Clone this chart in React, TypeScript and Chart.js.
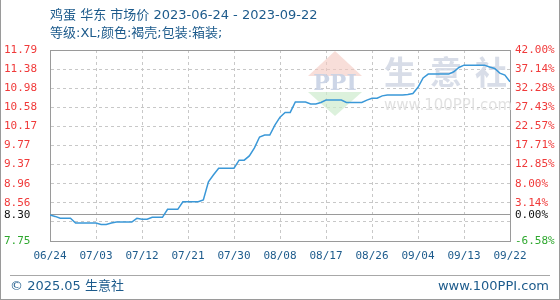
import React, { useEffect, useRef } from "react";
import { Chart, registerables } from "chart.js";

Chart.register(...registerables);

// ---- data ----
const startDate = "2023-06-24";
const dayCount = 91;

const prices: number[] = [
  8.30, 8.27, 8.23, 8.23, 8.23, 8.13, 8.13, 8.13, 8.13, 8.13,
  8.10, 8.10, 8.13, 8.15, 8.15, 8.15, 8.15, 8.23, 8.21, 8.21,
  8.25, 8.25, 8.25, 8.42, 8.42, 8.42, 8.58, 8.58, 8.58, 8.58,
  8.62, 9.00, 9.15, 9.29, 9.29, 9.29, 9.29, 9.46, 9.46, 9.55,
  9.72, 9.95, 9.99, 9.99, 10.20, 10.37, 10.47, 10.47, 10.69, 10.69,
  10.69, 10.65, 10.65, 10.68, 10.73, 10.73, 10.73, 10.73, 10.68, 10.68,
  10.68, 10.68, 10.73, 10.77, 10.77, 10.82, 10.84, 10.84, 10.84, 10.84,
  10.85, 10.87, 11.00, 11.20, 11.28, 11.28, 11.28, 11.28, 11.28, 11.33,
  11.42, 11.47, 11.47, 11.47, 11.47, 11.47, 11.43, 11.40, 11.30, 11.26,
  11.12,
];

const basePrice = 8.30;
const yMin = 7.75;
const yMax = 11.79;
const yTickValues = [7.75, 8.154, 8.30, 8.558, 8.962, 9.366, 9.77, 10.174, 10.578, 10.982, 11.386, 11.79];
const leftTickLabels = ["7.75", "", "8.30", "8.56", "8.96", "9.37", "9.77", "10.17", "10.58", "10.98", "11.38", "11.79"];
const rightTickLabels = ["-6.58%", "", "0.00%", "3.14%", "8.00%", "12.85%", "17.71%", "22.57%", "27.43%", "32.28%", "37.14%", "42.00%"];
const xTickStep = 9;

const titleText = "鸡蛋 华东 市场价 2023-06-24 - 2023-09-22";
const subtitleText = "等级:XL;颜色:褐壳;包装:箱装;";
const footerLeft = "© 2025.05 生意社";
const footerRight = "www.100PPI.com";

function buildDates(): string[] {
  const [y, m, d] = startDate.split("-").map(Number);
  const t0 = Date.UTC(y, m - 1, d);
  const out: string[] = [];
  for (let i = 0; i < dayCount; i++) {
    const dt = new Date(t0 + i * 86400000);
    const mm = String(dt.getUTCMonth() + 1).padStart(2, "0");
    const dd = String(dt.getUTCDate()).padStart(2, "0");
    out.push(`${mm}/${dd}`);
  }
  return out;
}
const dates = buildDates();

const RED = "#f03a3a";
const GREEN = "#2fa82f";
const BLACK = "#111111";
const BLUE_TEXT = "#1d5b8c";
const FRAME = "#9a9a9a";
const GRID = "#c8c8c8";
const MONO = '"DejaVu Sans Mono", "Liberation Mono", monospace';
const SANS = '"DejaVu Sans", "Noto Sans CJK SC", sans-serif';

function tickColor(v: number | undefined): string {
  if (v === undefined) return BLACK;
  if (Math.abs(v - basePrice) < 1e-9) return BLACK;
  if (v > basePrice) return RED;
  return GREEN;
}

const watermarkPlugin = {
  id: "watermark",
  beforeDatasetsDraw(chart: any) {
    const ctx = chart.ctx as CanvasRenderingContext2D;
    ctx.save();
    ctx.fillStyle = "rgba(244,200,192,0.6)";
    ctx.beginPath();
    ctx.moveTo(335, 51);
    ctx.lineTo(362, 76);
    ctx.lineTo(308, 76);
    ctx.closePath();
    ctx.fill();
    ctx.fillStyle = "rgba(205,235,205,0.7)";
    ctx.beginPath();
    ctx.moveTo(308, 92);
    ctx.lineTo(362, 92);
    ctx.lineTo(335, 116);
    ctx.closePath();
    ctx.fill();
    ctx.fillStyle = "rgba(200,210,228,0.9)";
    ctx.font = 'bold 22px "DejaVu Serif", serif';
    ctx.textAlign = "center";
    ctx.textBaseline = "middle";
    ctx.fillText("PPI", 335, 84);
    ctx.fillStyle = "rgba(212,217,230,0.9)";
    ctx.font = 'bold 32px "Noto Sans CJK SC", sans-serif';
    ctx.textAlign = "left";
    ctx.textBaseline = "middle";
    const chars = ["生", "意", "社"];
    const xs = [384, 430, 475];
    chars.forEach((c, i) => ctx.fillText(c, xs[i], 72));
    ctx.fillStyle = "rgba(222,222,222,0.9)";
    ctx.font = '15px "DejaVu Sans", sans-serif';
    ctx.fillText("www.100PPI.com", 384, 106);
    ctx.restore();
  },
};

export default function App() {
  const canvasRef = useRef<HTMLCanvasElement | null>(null);

  useEffect(() => {
    if (!canvasRef.current) return;
    const chart = new Chart(canvasRef.current, {
      type: "line",
      data: {
        datasets: [
          {
            data: prices.map((v, i) => ({ x: i, y: v })),
            borderColor: "#3a98d8",
            borderWidth: 1.5,
            pointRadius: 0,
            tension: 0,
            fill: false,
          },
        ],
      },
      plugins: [watermarkPlugin],
      options: {
        responsive: false,
        animation: false,
        parsing: false as any,
        layout: { padding: { left: 4, top: 50, right: 0, bottom: 0 } },
        plugins: {
          legend: { display: false },
          tooltip: { enabled: false },
          title: { display: false },
        },
        scales: {
          x: {
            type: "linear",
            min: 0,
            max: dayCount - 1,
            afterFit: (s: any) => {
              s.height = 59;
            },
            afterBuildTicks: (s: any) => {
              const t: any[] = [];
              for (let i = 0; i < dayCount; i += xTickStep) t.push({ value: i });
              s.ticks = t;
            },
            ticks: {
              autoSkip: false,
              maxRotation: 0,
              padding: 9,
              color: BLUE_TEXT,
              font: { family: MONO, size: 11 },
              callback: (v: any) => dates[Math.round(Number(v))] ?? "",
            },
            grid: {
              drawTicks: false,
              color: (c: any) => {
                const v = c.tick ? c.tick.value : undefined;
                if (v === 0 || v === dayCount - 1) return "rgba(0,0,0,0)";
                return GRID;
              },
              lineWidth: 1,
            },
            border: { display: true, color: FRAME, width: 1, dash: [3, 3] },
          },
          y: {
            type: "linear",
            position: "left",
            min: yMin,
            max: yMax,
            afterFit: (s: any) => {
              s.width = 46;
            },
            afterBuildTicks: (s: any) => {
              s.ticks = yTickValues.map((v) => ({ value: v }));
            },
            ticks: {
              autoSkip: false,
              crossAlign: "far",
              padding: 0,
              font: { family: MONO, size: 11 },
              color: (c: any) => tickColor(c.tick ? c.tick.value : undefined),
              callback: (v: any) => {
                const i = yTickValues.findIndex((t) => Math.abs(t - Number(v)) < 1e-6);
                return i >= 0 ? leftTickLabels[i] : "";
              },
            },
            grid: {
              drawTicks: false,
              lineWidth: 1,
              color: (c: any) => {
                const v = c.tick ? c.tick.value : undefined;
                if (v === undefined) return GRID;
                if (Math.abs(v - yMin) < 1e-6) return "rgba(0,0,0,0)";
                if (Math.abs(v - yMax) < 1e-6 || Math.abs(v - basePrice) < 1e-6) return FRAME;
                return GRID;
              },
            },
            border: {
              display: true,
              color: FRAME,
              width: 1,
              dash: (c: any) => {
                const v = c.tick ? c.tick.value : undefined;
                if (v !== undefined && (Math.abs(v - yMax) < 1e-6 || Math.abs(v - basePrice) < 1e-6)) return [];
                return [3, 3];
              },
            } as any,
          },
          y2: {
            type: "linear",
            position: "right",
            min: yMin,
            max: yMax,
            afterFit: (s: any) => {
              s.width = 50;
            },
            afterBuildTicks: (s: any) => {
              s.ticks = yTickValues.map((v) => ({ value: v }));
            },
            ticks: {
              autoSkip: false,
              padding: 5,
              font: { family: MONO, size: 11 },
              color: (c: any) => tickColor(c.tick ? c.tick.value : undefined),
              callback: (v: any) => {
                const i = yTickValues.findIndex((t) => Math.abs(t - Number(v)) < 1e-6);
                return i >= 0 ? rightTickLabels[i] : "";
              },
            },
            grid: { display: false, drawTicks: false },
            border: { display: true, color: FRAME, width: 1 },
          },
        },
      } as any,
    });
    return () => chart.destroy();
  }, []);

  return (
    <div style={{ position: "absolute", left: 0, top: 0, width: 560, height: 300, background: "#fff", overflow: "hidden" }}>
      <canvas ref={canvasRef} width={560} height={300} style={{ position: "absolute", left: 0, top: 0, width: 560, height: 300 }} />
      <div style={{ position: "absolute", left: 50, top: 6, fontFamily: SANS, fontSize: 13, lineHeight: "18px", color: BLUE_TEXT, whiteSpace: "nowrap" }}>
        {titleText}
      </div>
      <div style={{ position: "absolute", left: 50, top: 24, fontFamily: SANS, fontSize: 13, lineHeight: "18px", color: BLUE_TEXT, whiteSpace: "nowrap" }}>
        {subtitleText}
      </div>
      <div style={{ position: "absolute", left: 10, top: 275, width: 540, height: 0, borderTop: "1px solid #a8a8a8" }} />
      <div style={{ position: "absolute", left: 10, top: 277, fontFamily: SANS, fontSize: 13, lineHeight: "18px", color: BLUE_TEXT, whiteSpace: "nowrap" }}>
        {footerLeft}
      </div>
      <div style={{ position: "absolute", right: 11, top: 277, fontFamily: SANS, fontSize: 13, lineHeight: "18px", color: BLUE_TEXT, whiteSpace: "nowrap" }}>
        {footerRight}
      </div>
      <div style={{ position: "absolute", left: 0, top: 0, width: 560, height: 300, boxSizing: "border-box", borderLeft: "1px solid #9a9a9a", borderRight: "1px solid #9a9a9a", borderBottom: "1px solid #9a9a9a", pointerEvents: "none" }} />
    </div>
  );
}
